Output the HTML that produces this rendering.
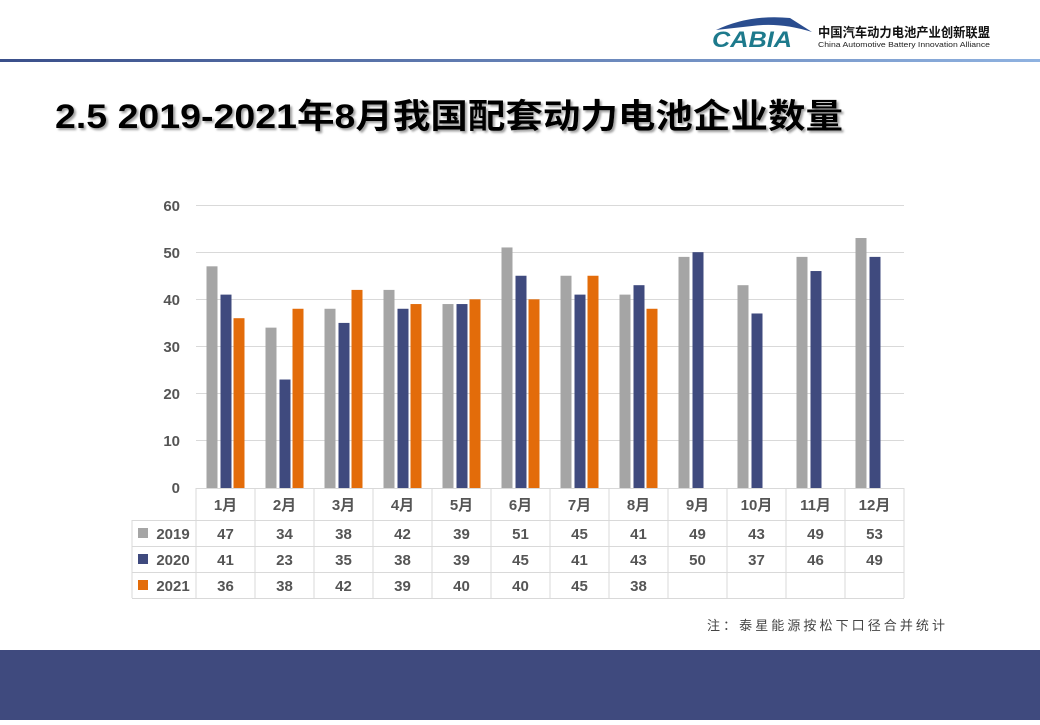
<!DOCTYPE html>
<html><head><meta charset="utf-8"><style>
body{margin:0;width:1040px;height:720px;overflow:hidden;background:#fff;font-family:"Liberation Sans","Noto Sans CJK SC",sans-serif}
</style></head><body>
<svg width="1040" height="720" xmlns="http://www.w3.org/2000/svg" font-family="Liberation Sans, Noto Sans CJK SC, sans-serif">
<defs>
<linearGradient id="hl" x1="0" x2="1"><stop offset="0" stop-color="#3a4f8a"/><stop offset="1" stop-color="#8fb2e0"/></linearGradient>
<filter id="sh"><feDropShadow dx="2" dy="2" stdDeviation="1" flood-color="#888" flood-opacity="0.8"/></filter>
</defs>
<rect x="0" y="59" width="1040" height="3" fill="url(#hl)"/>
<path d="M716 30 Q750 14 790 18 L812 32 Q780 22 752 26 Z" fill="#2a4d8f"/>
<text x="712" y="47" font-size="22" font-style="italic" font-weight="bold" fill="#1d7a8c" textLength="80" lengthAdjust="spacingAndGlyphs">CABIA</text>
<text x="818" y="37" font-size="13" font-weight="bold" fill="#111" textLength="172" lengthAdjust="spacingAndGlyphs">中国汽车动力电池产业创新联盟</text>
<text x="818" y="47" font-size="7.5" fill="#222" textLength="172" lengthAdjust="spacingAndGlyphs">China Automotive Battery Innovation Alliance</text>
<text x="55" y="128" font-size="34" font-weight="bold" fill="#000" filter="url(#sh)" textLength="788" lengthAdjust="spacingAndGlyphs">2.5 2019-2021年8月我国配套动力电池企业数量</text>
<g stroke="#d9d9d9" stroke-width="1">
<line x1="196" x2="904" y1="205.5" y2="205.5"/><line x1="196" x2="904" y1="252.5" y2="252.5"/>
<line x1="196" x2="904" y1="299.5" y2="299.5"/><line x1="196" x2="904" y1="346.5" y2="346.5"/>
<line x1="196" x2="904" y1="393.5" y2="393.5"/><line x1="196" x2="904" y1="440.5" y2="440.5"/>
</g>
<g font-size="15" font-weight="bold" fill="#555" text-anchor="end">
<text x="180" y="211">60</text><text x="180" y="258">50</text><text x="180" y="305">40</text><text x="180" y="352">30</text><text x="180" y="399">20</text><text x="180" y="446">10</text><text x="180" y="493">0</text>
</g>
<g id="bars"></g>
<g stroke="#d9d9d9" stroke-width="1" fill="none" id="grid"></g>
<g id="tx" font-size="15" font-weight="bold" fill="#555" text-anchor="middle"></g>
<text x="707" y="630" font-size="13" fill="#444" textLength="238" lengthAdjust="spacing">注：泰星能源按松下口径合并统计</text>
<rect x="0" y="650" width="1040" height="70" fill="#3f4a7e"/>
</svg>
<script>
var d=[[47,34,38,42,39,51,45,41,49,43,49,53],[41,23,35,38,39,45,41,43,50,37,46,49],[36,38,42,39,40,40,45,38]];
var c=["#a5a5a5","#3f4a7e","#e36c0a"],off=[-19,-5,8],ns="http://www.w3.org/2000/svg";
var b=document.getElementById('bars'),g=document.getElementById('grid'),t=document.getElementById('tx');
function el(p,n,a,s){var e=document.createElementNS(ns,n);for(var k in a)e.setAttribute(k,a[k]);if(s!=null)e.textContent=s;p.appendChild(e);}
var bw=59;
for(var s=0;s<3;s++)for(var i=0;i<d[s].length;i++){var cx=196+bw*i+bw/2,h=d[s][i]*283/60;
el(b,'rect',{x:cx+off[s],y:488-h,width:11,height:h,fill:c[s]});}
for(var i=0;i<=12;i++){el(g,'line',{x1:196+bw*i,x2:196+bw*i,y1:488,y2:598});}
el(g,'line',{x1:132,x2:132,y1:520,y2:598});
el(g,'line',{x1:196,x2:904,y1:488.5,y2:488.5});
[520.5,546.5,572.5,598.5].forEach(function(y){el(g,'line',{x1:132,x2:904,y1:y,y2:y});});
for(var i=0;i<12;i++){var cx=196+bw*i+bw/2;el(t,'text',{x:cx,y:510},(i+1)+'月');
for(var s=0;s<3;s++)if(i<d[s].length)el(t,'text',{x:cx,y:539+s*26},d[s][i]);}
var yrs=['2019','2020','2021'];
for(var s=0;s<3;s++){el(b,'rect',{x:138,y:528+s*26,width:10,height:10,fill:c[s]});el(t,'text',{x:173,y:539+s*26},yrs[s]);}
</script>
</body></html>
